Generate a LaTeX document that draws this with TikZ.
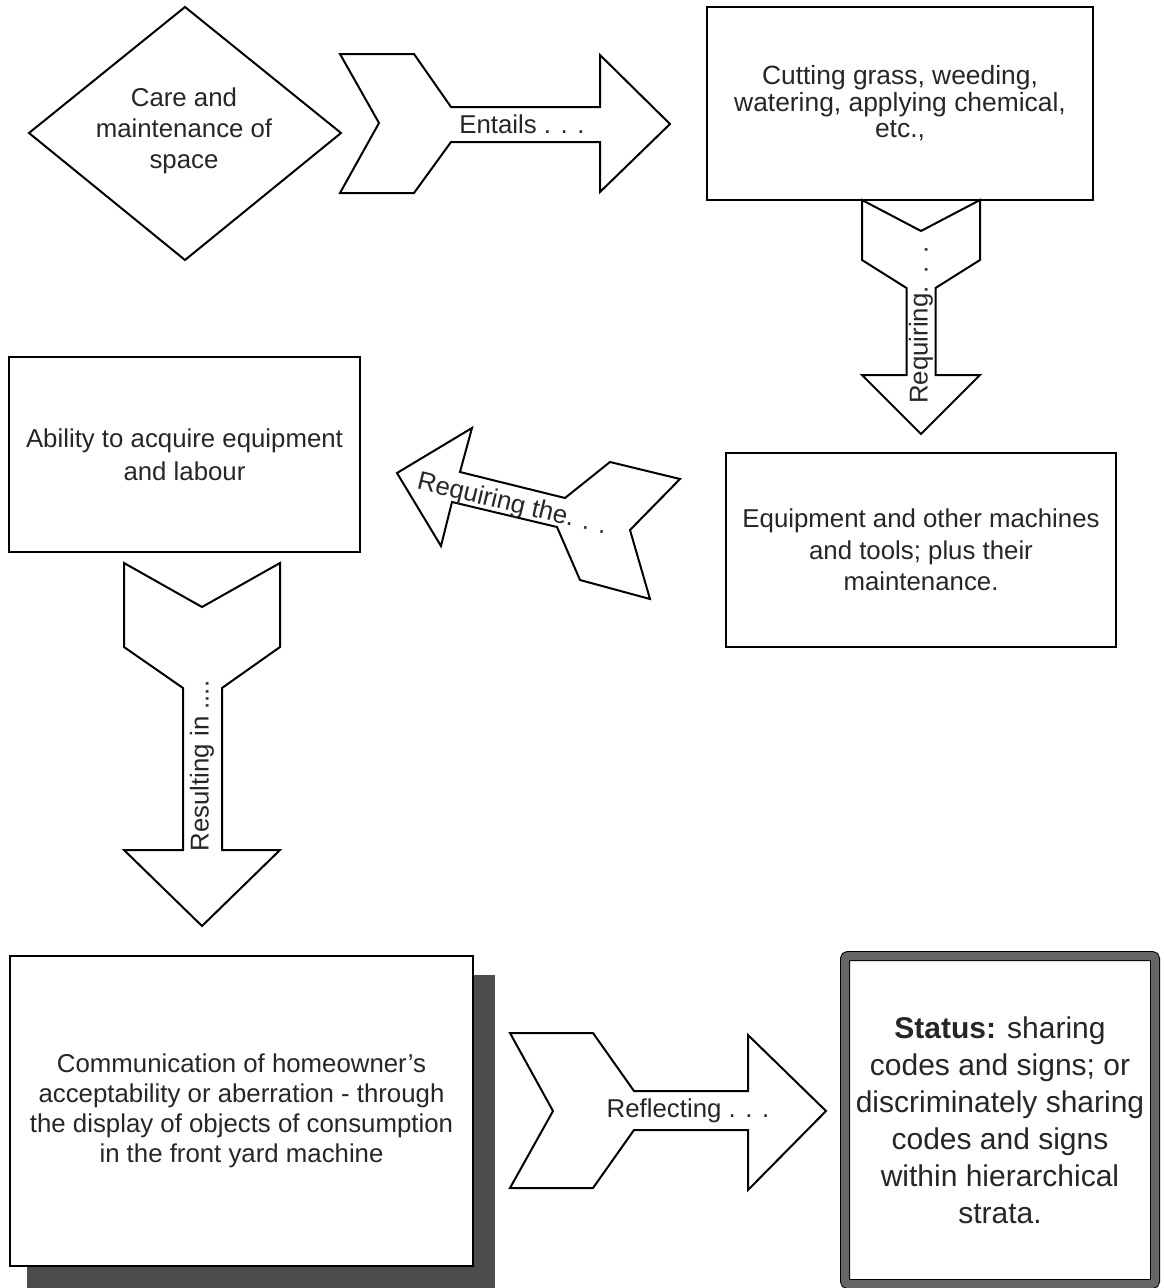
\documentclass[tikz,border=0pt]{standalone}
\usepackage{fontspec}
\setmainfont{Liberation Sans}
\begin{document}
\begin{tikzpicture}[x=1pt,y=-1pt]
\tikzset{
  lbl/.style={font=\fontsize{25.8}{31}\selectfont, text=black!85, align=center, inner sep=0pt},
  box/.style={lbl, draw=black, line width=2pt, fill=white, outer sep=0pt},
  shapeline/.style={draw=black, line width=2pt, fill=white, line join=miter, miter limit=10},
}
\useasboundingbox (0,0) rectangle (1163,1288);
\fill[white] (0,0) rectangle (1163,1288);

% diamond
\draw[shapeline] (29,133) -- (185,7) -- (341,133) -- (185,260) -- cycle;
\node[lbl] (care) at (184,131) {Care and\\maintenance of\\space};

% Entails arrow
\draw[shapeline] (340,54) -- (414,54) -- (451,107) -- (600,107) -- (600,55) -- (670,124)
  -- (600,192) -- (600,142) -- (451,142) -- (414,193) -- (340,193) -- (379,123) -- cycle;
\node[lbl] (entails) at (522,124) {Entails . . .};

% Cutting box
\node[box, font=\fontsize{26.4}{26.5}\selectfont, minimum width=386pt, minimum height=193pt] (cut) at (900,103.5)
  {Cutting grass, weeding,\\watering, applying chemical,\\etc.,};

% vertical Requiring arrow
\draw[shapeline] (862,200) -- (921,231) -- (980,200) -- (980,260) -- (935.5,288) -- (935.5,375)
  -- (980,375) -- (921,434) -- (862,375) -- (906.5,375) -- (906.5,288) -- (862,260) -- cycle;
\node[lbl, rotate=90] (req1) at (921,325) {Requiring.\hspace{0.5em}.\hspace{0.5em}.};

% Equipment box
\node[box, font=\fontsize{25.8}{31.7}\selectfont, minimum width=390pt, minimum height=194pt] (equip) at (921,550)
  {Equipment and other machines\\and tools; plus their\\maintenance.};

% Requiring the arrow (pointing left)
\draw[shapeline] (397,473) -- (472,428) -- (460,472) -- (565,498) -- (610,462) -- (680,479)
  -- (630,530) -- (650,599) -- (580,580) -- (557,527) -- (452,502) -- (441,546) -- cycle;
\node[lbl, rotate=-13.5] (req2) at (512,505) {Requiring the. . .};

% Ability box
\node[box, font=\fontsize{25.8}{33}\selectfont, minimum width=351pt, minimum height=195pt] (ability) at (184.5,454.5)
  {Ability to acquire equipment\\and labour};

% Resulting arrow
\draw[shapeline] (124,563) -- (202,607) -- (280,563) -- (280,647) -- (222,688) -- (222,850)
  -- (280,850) -- (202,926) -- (124,850) -- (183,850) -- (183,688) -- (124,647) -- cycle;
\node[lbl, rotate=90] (res) at (202,766) {Resulting in ....};

% Communication box with shadow
\fill[black!70] (27,975) rectangle (495,1288);
\node[box, font=\fontsize{25.8}{30}\selectfont, minimum width=463pt, minimum height=310pt] (comm) at (241.5,1111)
  {Communication of homeowner's\\acceptability or aberration - through\\the display of objects of consumption\\in the front yard machine};

% Reflecting arrow
\draw[shapeline] (510,1033) -- (593,1033) -- (634,1091) -- (748,1091) -- (748,1035) -- (826,1111)
  -- (748,1190) -- (748,1130) -- (634,1130) -- (593,1188) -- (510,1188) -- (553,1111) -- cycle;
\node[lbl] (refl) at (688,1111) {Reflecting . . .};

% Status box
\node[lbl, font=\fontsize{30}{37}\selectfont, draw=black, double=black!60, double distance=8pt,
  line width=1pt, fill=white, rounded corners=3pt, minimum width=310pt, minimum height=328pt] (status) at (1000,1120)
  {\textbf{Status:} sharing\\codes and signs; or\\discriminately sharing\\codes and signs\\within hierarchical\\strata.};
\end{tikzpicture}
\end{document}
